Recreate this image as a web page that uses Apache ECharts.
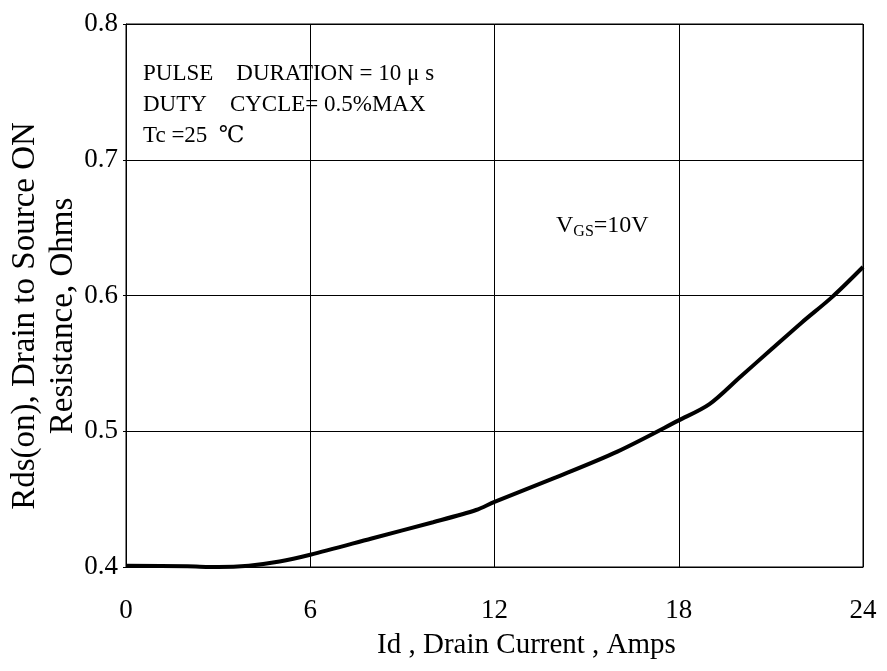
<!DOCTYPE html>
<html>
<head>
<meta charset="utf-8">
<script src="https://cdn.jsdelivr.net/npm/echarts@6/dist/echarts.min.js"></script>
<style>
  html, body { margin: 0; padding: 0; background: #fff; }
  #chart { width: 887px; height: 671px; }
</style>
</head>
<body>
<div id="chart"></div>
<script>
// drain current (A) and Rds(on) (ohm)
const currentAmps = [0, 2, 3, 4, 5, 6, 8, 10, 11.4, 12, 14, 16, 18, 19, 20, 21, 22, 23, 24]
const rdsOn = [0.401, 0.4005, 0.400, 0.401, 0.404, 0.409, 0.421, 0.433, 0.442, 0.448, 0.466, 0.485, 0.508, 0.520, 0.540, 0.560, 0.580, 0.599, 0.621]
const xTicks = [0, 6, 12, 18, 24]
const yTicks = [0.4, 0.5, 0.6, 0.7, 0.8]
const noteLines = ['PULSE    DURATION = 10 μ s', 'DUTY    CYCLE= 0.5%MAX', 'Tc =25  ℃']
const yNameLines = ['Rds(on), Drain to Source ON', 'Resistance, Ohms']

const serif = '"Liberation Serif", "DejaVu Serif", serif'
const chart = echarts.init(document.getElementById('chart'))

let option = {
  animation: false,
  backgroundColor: '#fff',
  grid: {
    left: 126,
    right: 24,
    top: 24,
    bottom: 104,
    show: true,
    borderColor: '#000',
    borderWidth: 1
  },
  xAxis: {
    type: 'value',
    min: xTicks[0],
    max: xTicks[xTicks.length - 1],
    interval: 6,
    name: 'Id , Drain Current , Amps',
    nameLocation: 'middle',
    nameGap: 64,
    // title sits a little right of the plot centre
    nameTextStyle: { fontFamily: serif, fontSize: 29, color: '#000', padding: [0, 0, 0, 64] },
    axisLine: { lineStyle: { color: '#000', width: 1 } },
    axisTick: { show: false },
    axisLabel: { fontFamily: serif, fontSize: 27, color: '#000', margin: 30 },
    splitLine: { lineStyle: { color: '#000', width: 1 } }
  },
  yAxis: {
    type: 'value',
    min: yTicks[0],
    max: yTicks[yTicks.length - 1],
    interval: 0.1,
    axisLine: { lineStyle: { color: '#000', width: 1 } },
    axisTick: { show: true, length: 3, lineStyle: { color: '#000' } },
    axisLabel: {
      fontFamily: serif, fontSize: 27, color: '#000', margin: 8,
      formatter: v => v.toFixed(1)
    },
    splitLine: { lineStyle: { color: '#000', width: 1 } }
  },
  graphic: [
    // y axis title, two rotated lines
    ...yNameLines.map((t, i) => ({
      type: 'text',
      x: 25 + i * 38,
      y: 316,
      rotation: Math.PI / 2,
      style: {
        text: t, font: '33px ' + serif, fill: '#000',
        align: 'center', verticalAlign: 'middle'
      }
    })),
    ...noteLines.map((t, i) => ({
      type: 'text',
      x: 143,
      y: 74 + i * 31,
      style: { text: t, font: '23px ' + serif, fill: '#000', verticalAlign: 'middle' }
    })),
    {
      type: 'text',
      x: 556,
      y: 226,
      style: {
        text: '{v|V}{s|GS}{v|=10V}',
        verticalAlign: 'middle',
        rich: {
          v: { fontFamily: serif, fontSize: 24, fill: '#000', verticalAlign: 'bottom' },
          s: { fontFamily: serif, fontSize: 16, fill: '#000', verticalAlign: 'bottom', padding: [0, 0, -2, 0] }
        }
      }
    }
  ],
  series: [
    {
      type: 'line',
      data: currentAmps.map((x, i) => [x, rdsOn[i]]),
      smooth: 0.3,
      showSymbol: false,
      lineStyle: { color: '#000', width: 4 }
    }
  ]
}
chart.setOption(option)
</script>
</body>
</html>
